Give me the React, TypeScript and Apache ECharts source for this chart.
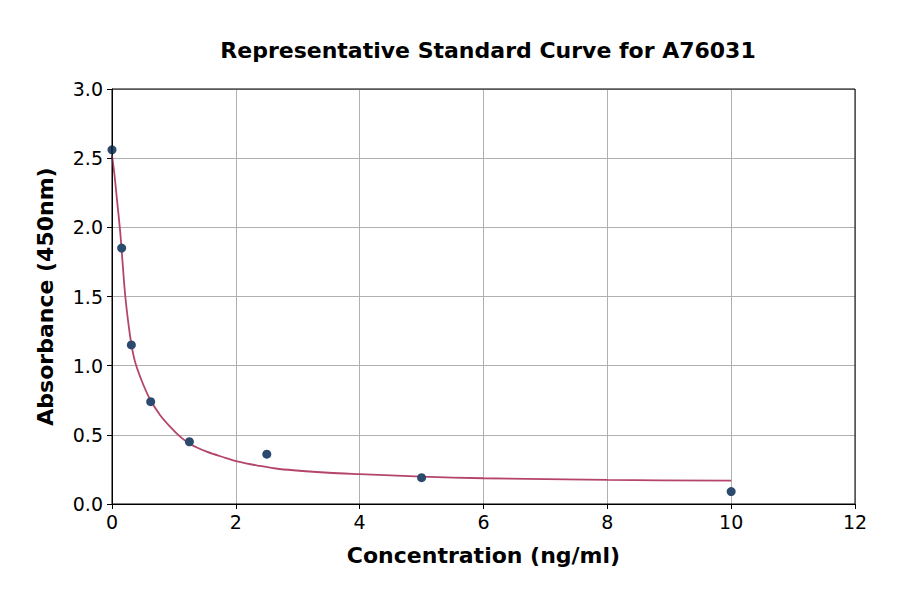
import React, { useEffect, useRef } from 'react';
import * as echarts from 'echarts';

// measured standards (concentration ng/ml, absorbance 450nm)
const pointX = [0, 0.156, 0.3125, 0.625, 1.25, 2.5, 5, 10];
const pointY = [2.56, 1.85, 1.15, 0.74, 0.45, 0.36, 0.19, 0.09];

// fitted curve
const curveX = [0, 0.04, 0.08, 0.13, 0.16, 0.215, 0.29, 0.344, 0.398, 0.506, 0.614, 0.775, 0.937, 1.1, 1.26, 1.53, 1.8, 2.04, 2.35, 2.7, 3.5, 4, 5, 6, 8, 10];
const curveY = [2.52, 2.38, 2.2, 1.98, 1.81, 1.5, 1.22, 1.08, 0.99, 0.862, 0.757, 0.643, 0.559, 0.487, 0.434, 0.378, 0.338, 0.306, 0.278, 0.253, 0.226, 0.216, 0.198, 0.186, 0.174, 0.169];

const xTicks = [0, 2, 4, 6, 8, 10, 12];
const yTicks = [0, 0.5, 1, 1.5, 2, 2.5, 3];

const FONT = '"DejaVu Sans", sans-serif';

const App: React.FC = () => {
  const chartRef = useRef<HTMLDivElement>(null);

  useEffect(() => {
    if (!chartRef.current) return;
    const chart = echarts.init(chartRef.current, null, { renderer: 'svg' });

    chart.setOption({
      animation: false,
      backgroundColor: '#ffffff',
      textStyle: { fontFamily: FONT },
      title: {
        text: 'Representative Standard Curve for A76031',
        left: 483,
        textAlign: 'center',
        top: 34,
        textStyle: { fontSize: 22, fontWeight: 'bold', color: '#000', fontFamily: FONT }
      },
      grid: { left: 112, right: 45, top: 89, bottom: 90, containLabel: false },
      xAxis: {
        type: 'value',
        min: xTicks[0],
        max: xTicks[xTicks.length - 1],
        interval: 2,
        name: 'Concentration (ng/ml)',
        nameLocation: 'middle',
        nameGap: 40,
        nameTextStyle: { fontSize: 22, fontWeight: 'bold', color: '#000', fontFamily: FONT },
        axisLine: { show: true, onZero: false, lineStyle: { color: '#000', width: 1 } },
        axisTick: { show: true, length: 5, lineStyle: { color: '#000' } },
        axisLabel: { fontSize: 19, color: '#000', margin: 8, fontFamily: FONT },
        splitLine: { show: true, lineStyle: { color: '#b0b0b0', width: 1 } }
      },
      yAxis: {
        type: 'value',
        min: yTicks[0],
        max: yTicks[yTicks.length - 1],
        interval: 0.5,
        name: 'Absorbance (450nm)',
        nameLocation: 'middle',
        nameGap: 56,
        nameTextStyle: { fontSize: 22, fontWeight: 'bold', color: '#000', fontFamily: FONT },
        axisLine: { show: true, onZero: false, lineStyle: { color: '#000', width: 1 } },
        axisTick: { show: true, length: 5, lineStyle: { color: '#000' } },
        axisLabel: {
          fontSize: 19,
          color: '#000',
          margin: 9,
          fontFamily: FONT,
          formatter: (v: number) => v.toFixed(1)
        },
        splitLine: { show: true, lineStyle: { color: '#b0b0b0', width: 1 } }
      },
      graphic: [
        {
          type: 'rect',
          shape: { x: 112, y: 89, width: 743, height: 415 },
          style: { fill: 'none', stroke: '#000', lineWidth: 1 },
          silent: true,
          z: 10
        }
      ],
      series: [
        {
          type: 'line',
          data: curveX.map((x, i) => [x, curveY[i]]),
          smooth: 0.3,
          showSymbol: false,
          lineStyle: { color: '#b5446b', width: 1.8 },
          z: 2
        },
        {
          type: 'scatter',
          data: pointX.map((x, i) => [x, pointY[i]]),
          symbolSize: 9,
          itemStyle: { color: '#2c4a6e', opacity: 1 },
          z: 3
        }
      ]
    });

    return () => chart.dispose();
  }, []);

  return (
    <div
      ref={chartRef}
      style={{ position: 'absolute', left: 0, top: 0, width: 900, height: 594 }}
    />
  );
};

export default App;
